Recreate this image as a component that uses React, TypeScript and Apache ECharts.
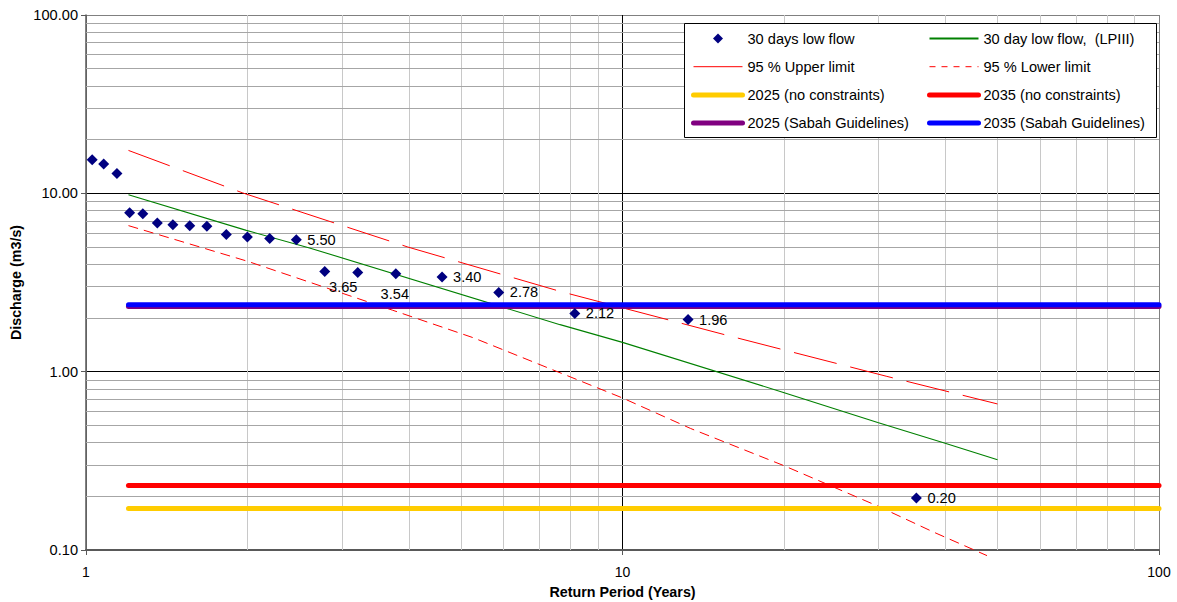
import React, { useEffect, useRef } from "react";
import * as echarts from "echarts";

// ---- Observed 30-day low flows (Weibull-type plotting positions) ----
const returnPeriod = [1.027, 1.079, 1.142, 1.206, 1.276, 1.358, 1.452, 1.561, 1.68, 1.826, 1.999, 2.2, 2.466, 2.786, 3.21, 3.78, 4.61, 5.88, 8.15, 13.25, 35.3];
const lowFlow = [15.45, 14.62, 12.9, 7.77, 7.69, 6.82, 6.67, 6.59, 6.53, 5.87, 5.69, 5.59, 5.5, 3.65, 3.6, 3.54, 3.4, 2.78, 2.12, 1.96, 0.196];
const pointLabels = ["", "", "", "", "", "", "", "", "", "", "", "", "5.50", "3.65", "", "3.54", "3.40", "2.78", "2.12", "1.96", "0.20"];

// ---- LPIII fitted curve ----
const lp3T = [1.2, 1.99, 2.61, 7.65, 10, 19.95, 29.9, 39.8, 50];
const lp3Q = [9.83, 6.2, 4.94, 1.835, 1.46, 0.765, 0.519, 0.398, 0.321];

// ---- 95 % confidence limits ----
const upperT = [1.2, 1.96, 3.98, 7.65, 15.65, 31.1, 50];
const upperQ = [17.4, 10.05, 5.0, 2.82, 1.6, 0.941, 0.659];
const lowerT = [1.2, 2, 3.73, 5.27, 10, 13.4, 20, 30, 38, 47.8];
const lowerQ = [6.59, 4.16, 2.21, 1.55, 0.712, 0.48, 0.297, 0.1756, 0.126, 0.093];

// ---- Demand levels (horizontal lines) ----
const levelNames = ["2025 (no constraints)", "2035 (no constraints)", "2025 (Sabah Guidelines)", "2035 (Sabah Guidelines)"];
const levelValues = [0.171, 0.23, 2.32, 2.37];
const levelColors = ["#FFCC00", "#FF0000", "#800080", "#0000FF"];
const levelStartT = 1.2;
const levelEndT = 100;

// ---- Minor gridline positions ----
const xMinor = [2, 3, 4, 5, 6, 7, 8, 9, 20, 30, 40, 50, 60, 70, 80, 90];
const yMinor = [0.2, 0.3, 0.4, 0.5, 0.6, 0.7, 0.8, 0.9, 2, 3, 4, 5, 6, 7, 8, 9, 20, 30, 40, 50, 60, 70, 80, 90];

const legendLeft = ["30 days low flow", "95 % Upper limit", "2025 (no constraints)", "2025 (Sabah Guidelines)"];
const legendRight = ["30 day low flow,  (LPIII)", "95 % Lower limit", "2035 (no constraints)", "2035 (Sabah Guidelines)"];

const FONT = "'Liberation Sans', Arial, Helvetica, sans-serif";
const TXT = 14.6;

export default function App() {
  const ref = useRef<HTMLDivElement>(null);

  useEffect(() => {
    const chart = echarts.init(ref.current as HTMLDivElement, null, { renderer: "svg" });

    const specialOffsets: Record<number, number[]> = { 13: [18.5, -2.5], 15: [-1, 2.5] };

    const scatterData = returnPeriod.map((t, i) => {
      const text = pointLabels[i];
      const item: any = { value: [t, lowFlow[i]] };
      if (text) {
        if (specialOffsets[i]) {
          item.label = { show: true, position: "bottom", distance: 5, offset: specialOffsets[i], formatter: text };
        } else {
          item.label = { show: true, position: "right", distance: 5.5, formatter: text };
        }
      }
      return item;
    });

    const pairs = (xs: number[], ys: number[]) => xs.map((x, i) => [x, ys[i]]);

    const levelSeries = levelNames.map((name, i) => ({
      name,
      type: "line",
      symbol: "none",
      data: [[levelStartT, levelValues[i]], [levelEndT, levelValues[i]]],
      lineStyle: { color: levelColors[i], width: 5, cap: "round" },
      itemStyle: { color: levelColors[i] },
      silent: true,
      z: 3,
    }));

    const legendCommon = {
      orient: "vertical",
      itemWidth: 49,
      itemHeight: 10,
      itemGap: 13.2,
      padding: 0,
      top: 31,
      selectedMode: false,
      z: 6,
      textStyle: { fontFamily: FONT, fontSize: TXT, color: "#000" },
    };

    const legendItem = (name: string) => {
      if (name === "30 days low flow") {
        return {
          name,
          icon: "path://M0,0 M49,10 M24.5,0 L29.5,5 L24.5,10 L19.5,5 Z",
          itemStyle: { color: "#000080", opacity: 1 },
        };
      }
      if (name === "95 % Upper limit") return { name, lineStyle: { type: "solid", width: 1 }, itemStyle: { opacity: 0 } };
      if (name === "95 % Lower limit") return { name, lineStyle: { type: [6, 6], width: 1 }, itemStyle: { opacity: 0 } };
      if (levelNames.indexOf(name) >= 0) {
        return { name, lineStyle: { width: 5, cap: "round" }, itemStyle: { opacity: 0 } };
      }
      return { name, itemStyle: { opacity: 0 } };
    };

    const option: any = {
      animation: false,
      backgroundColor: "#fff",
      textStyle: { fontFamily: FONT },
      grid: { left: 86, right: 18, top: 15, bottom: 52, containLabel: false, outerBoundsMode: "none" },
      legend: [
        { ...legendCommon, left: 691, data: legendLeft.map(legendItem) },
        { ...legendCommon, left: 927, data: legendRight.map(legendItem) },
      ],
      graphic: [
        {
          type: "rect",
          z: 5,
          shape: { x: 684.5, y: 23.5, width: 472, height: 114 },
          style: { fill: "#fff", stroke: "#000", lineWidth: 1 },
          silent: true,
        },
      ],
      xAxis: {
        type: "log",
        logBase: 10,
        min: 1,
        max: 100,
        name: "Return Period (Years)",
        nameLocation: "middle",
        nameGap: 35,
        nameMoveOverlap: false,
        nameTextStyle: { fontFamily: FONT, fontSize: 14.3, fontWeight: "bold", color: "#000" },
        axisLine: { show: true, lineStyle: { color: "#595959", width: 2 } },
        axisTick: { show: true, inside: false, length: 5, lineStyle: { color: "#595959", width: 1 } },
        axisLabel: {
          fontFamily: FONT,
          fontSize: 14,
          color: "#000",
          margin: 15,
          formatter: (v: number) => String(Math.round(v)),
        },
        splitLine: { show: true, lineStyle: { color: ["#808080", "#000000", "#808080"], width: 1 } },
        minorTick: { show: false },
        minorSplitLine: { show: false },
      },
      yAxis: {
        type: "log",
        logBase: 10,
        min: 0.1,
        max: 100,
        name: "Discharge (m3/s)",
        nameLocation: "middle",
        nameGap: 63,
        nameMoveOverlap: false,
        nameTextStyle: { fontFamily: FONT, fontSize: 14.3, fontWeight: "bold", color: "#000" },
        axisLine: { show: true, lineStyle: { color: "#595959", width: 1.5 } },
        axisTick: { show: true, inside: false, length: 5, lineStyle: { color: "#595959", width: 1 } },
        axisLabel: {
          fontFamily: FONT,
          fontSize: TXT,
          color: "#000",
          margin: 8,
          formatter: (v: number) => v.toFixed(2),
        },
        splitLine: { show: true, lineStyle: { color: ["#808080", "#000000", "#000000", "#808080"], width: 1 } },
        minorTick: { show: false },
        minorSplitLine: { show: false },
      },
      series: [
        {
          name: "minorGrid",
          type: "line",
          data: [],
          silent: true,
          z: 1,
          markLine: {
            silent: true,
            z: 1,
            animation: false,
            symbol: ["none", "none"],
            label: { show: false },
            emphasis: { disabled: true },
            data: [
              ...xMinor.map((v) => ({ xAxis: v, lineStyle: { color: "#c8c8c8", type: "solid", width: 1 } })),
              ...yMinor.map((v) => ({ yAxis: v, lineStyle: { color: "#a6a6a6", type: "solid", width: 1 } })),
            ],
          },
        },
        {
          name: "95 % Lower limit",
          type: "line",
          symbol: "none",
          clip: false,
          data: pairs(lowerT, lowerQ),
          lineStyle: { color: "#FF0000", width: 1, type: [10, 6] },
          itemStyle: { color: "#FF0000" },
          silent: true,
          z: 2,
        },
        {
          name: "95 % Upper limit",
          type: "line",
          symbol: "none",
          data: pairs(upperT, upperQ),
          lineStyle: { color: "#FF0000", width: 1, type: [44, 14] },
          itemStyle: { color: "#FF0000" },
          silent: true,
          z: 2,
        },
        {
          name: "30 day low flow,  (LPIII)",
          type: "line",
          symbol: "none",
          data: pairs(lp3T, lp3Q),
          lineStyle: { color: "#008000", width: 1.1 },
          itemStyle: { color: "#008000" },
          silent: true,
          z: 2,
        },
        ...levelSeries,
        {
          name: "30 days low flow",
          type: "scatter",
          symbol: "diamond",
          symbolSize: 11,
          data: scatterData,
          itemStyle: { color: "#000080", opacity: 1 },
          label: { fontFamily: FONT, fontSize: TXT, color: "#000" },
          silent: true,
          z: 4,
        },
      ],
    };

    chart.setOption(option);
    return () => chart.dispose();
  }, []);

  return (
    <div
      ref={ref}
      style={{ position: "fixed", left: 0, top: 0, width: 1177, height: 602, background: "#fff" }}
    />
  );
}
